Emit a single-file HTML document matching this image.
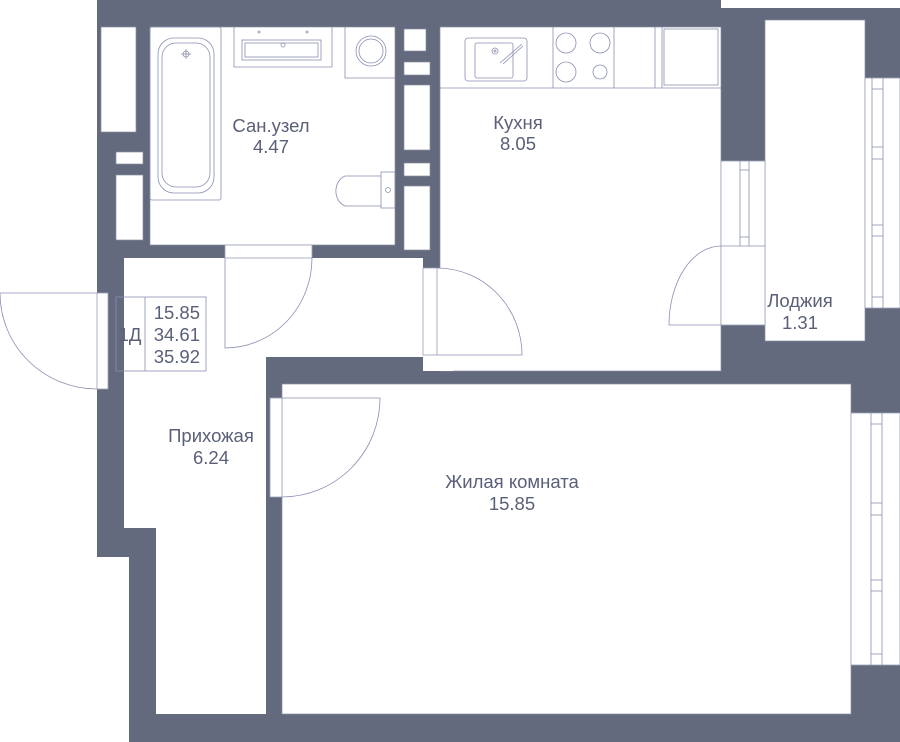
<!DOCTYPE html>
<html><head><meta charset="utf-8"><style>
html,body{margin:0;padding:0;background:#fff;}
svg{display:block;}
text{font-family:"Liberation Sans","DejaVu Sans",sans-serif;fill:#5a6078;font-size:18.5px;}
</style></head><body>
<svg width="900" height="742" viewBox="0 0 900 742" xmlns="http://www.w3.org/2000/svg">
<path d="M97 0 H721 V8 H900 V742 H129 V557 H97 Z" fill="#646a7e"/>
<g fill="#fff" stroke="#8a8fa3" stroke-width="0.7">
<rect x="150" y="27" width="245" height="218"/>
<rect x="440" y="27" width="281" height="344"/>
<rect x="423" y="268" width="30" height="103" stroke="none"/>
<path d="M124 258 H423 V357 H266 V497 H266 V714 H156 V528 H124 Z" stroke="none"/>
<rect x="282" y="384" width="569" height="330"/>
<rect x="765" y="20" width="100" height="321"/>
<rect x="101" y="27" width="35" height="105"/>
<rect x="116" y="152" width="27" height="12"/>
<rect x="116" y="175" width="27" height="65"/>
<rect x="404" y="29" width="22" height="22"/>
<rect x="404" y="62" width="26" height="13"/>
<rect x="404" y="85" width="26" height="65"/>
<rect x="404" y="163" width="26" height="13"/>
<rect x="404" y="186" width="26" height="64"/>
</g>
<g fill="#fff" stroke="#9aa0b8" stroke-width="0.8">
<rect x="225" y="245" width="87" height="13"/>
<rect x="423" y="268" width="14" height="87"/>
<rect x="270" y="398" width="12" height="99"/>
<rect x="97" y="293" width="11" height="96"/>
<rect x="721" y="161" width="44" height="164"/>
<rect x="851" y="413" width="49" height="252"/>
<rect x="865" y="78" width="35" height="230"/>
</g>
<g fill="none" stroke="#8a8fb0" stroke-width="0.8">
<line x1="740" y1="161" x2="740" y2="246"/><line x1="749" y1="161" x2="749" y2="246"/>
<line x1="721" y1="246" x2="765" y2="246"/>
<line x1="740" y1="170" x2="749" y2="170"/><line x1="740" y1="237" x2="749" y2="237"/>
<line x1="871" y1="413" x2="871" y2="665"/><line x1="882" y1="413" x2="882" y2="665"/>
<line x1="871" y1="424" x2="882" y2="424"/><line x1="871" y1="503" x2="882" y2="503"/><line x1="871" y1="515" x2="882" y2="515"/><line x1="871" y1="580" x2="882" y2="580"/><line x1="871" y1="591" x2="882" y2="591"/><line x1="871" y1="654" x2="882" y2="654"/>
<line x1="872" y1="78" x2="872" y2="308"/><line x1="883" y1="78" x2="883" y2="308"/>
<line x1="872" y1="89" x2="883" y2="89"/><line x1="872" y1="147" x2="883" y2="147"/><line x1="872" y1="159" x2="883" y2="159"/><line x1="872" y1="225" x2="883" y2="225"/><line x1="872" y1="236" x2="883" y2="236"/><line x1="872" y1="297" x2="883" y2="297"/>
<path d="M225 258 V348 A87 90 0 0 0 312 258"/>
<path d="M437 268 A85 87 0 0 1 522 355 H437"/>
<path d="M282 398 H380 A98 99 0 0 1 282 497"/>
<path d="M0 293 H97 M0 293 A97 96 0 0 0 97 389"/>
<path d="M721 325 H669 A52 79 0 0 1 721 246"/>
<rect x="150" y="27" width="71" height="173" rx="2"/>
<rect x="158" y="38" width="56" height="155" rx="16"/>
<rect x="162" y="43" width="48" height="144" rx="14"/>
<circle cx="186" cy="54" r="3"/><line x1="181" y1="54" x2="191" y2="54"/><line x1="186" y1="49" x2="186" y2="59"/>
<path d="M234 27 V67 H332 V27"/>
<rect x="242" y="40" width="79" height="20"/><rect x="245" y="43" width="73" height="14"/>
<circle cx="283" cy="45" r="2"/><circle cx="259" cy="32" r="1"/><circle cx="307" cy="32" r="1"/>
<path d="M345 27 V78 H395"/>
<circle cx="371" cy="51" r="15"/><circle cx="371" cy="51" r="12"/>
<rect x="381" y="172" width="14" height="36"/>
<path d="M381 176 H345 A14 16 0 0 0 345 206 H381"/>
<circle cx="388" cy="190" r="2.5"/>
<line x1="440" y1="88" x2="721" y2="88"/>
<line x1="553" y1="27" x2="553" y2="88"/><line x1="614" y1="27" x2="614" y2="88"/><line x1="655" y1="27" x2="655" y2="88"/><line x1="662" y1="27" x2="662" y2="88"/>
<rect x="465" y="38" width="62" height="43" rx="3"/><rect x="475" y="43" width="38" height="35" rx="2"/>
<circle cx="495" cy="51" r="3"/><circle cx="495" cy="51" r="1"/>
<path d="M500 63 L522 44 M503 64 L523 46"/>
<circle cx="566" cy="43" r="10"/><circle cx="600" cy="43" r="10"/><circle cx="566" cy="72" r="10"/><circle cx="600" cy="72" r="7"/>
<rect x="664" y="29" width="54" height="56"/>
<rect x="116" y="297" width="90" height="74"/>
<line x1="145" y1="297" x2="145" y2="371"/>
</g>
<text x="130" y="341" text-anchor="middle">1Д</text>
<text x="200" y="319" text-anchor="end">15.85</text>
<text x="200" y="341" text-anchor="end">34.61</text>
<text x="200" y="363" text-anchor="end">35.92</text>
<g text-anchor="middle">
<text x="271" y="132">Сан.узел</text><text x="271" y="153">4.47</text>
<text x="518" y="129">Кухня</text><text x="518" y="150">8.05</text>
<text x="800" y="307">Лоджия</text><text x="800" y="329">1.31</text>
<text x="211" y="442">Прихожая</text><text x="211" y="464">6.24</text>
<text x="512" y="488">Жилая комната</text><text x="512" y="510">15.85</text>
</g>
</svg>
</body></html>
